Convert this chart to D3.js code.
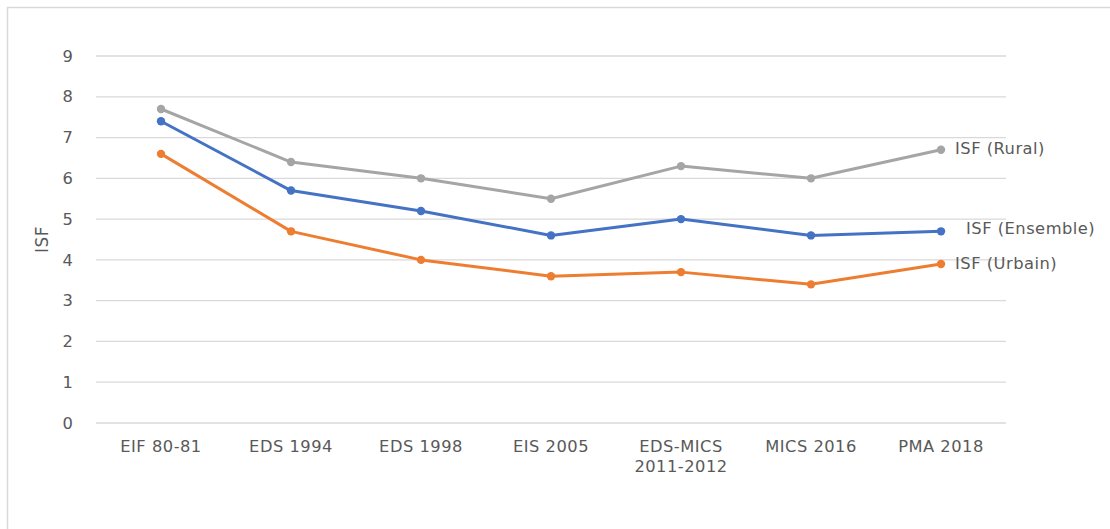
<!DOCTYPE html>
<html>
<head>
<meta charset="utf-8">
<script src="https://cdn.jsdelivr.net/npm/d3@7"></script>
<style>
  html, body { margin: 0; padding: 0; background: #fff; }
  svg { display: block; }
  text { font-family: "DejaVu Sans", "Open Sans", sans-serif; fill: #595959; letter-spacing: 0.5px; }
</style>
</head>
<body>
<svg id="chart" width="1110" height="529"></svg>
<script>
// Survey rounds
const categories = [
  ["EIF 80-81"], ["EDS 1994"], ["EDS 1998"], ["EIS 2005"],
  ["EDS-MICS", "2011-2012"], ["MICS 2016"], ["PMA 2018"]
];
// Total fertility rate by residence
const rural    = [7.7, 6.4, 6.0, 5.5, 6.3, 6.0, 6.7];
const ensemble = [7.4, 5.7, 5.2, 4.6, 5.0, 4.6, 4.7];
const urbain   = [6.6, 4.7, 4.0, 3.6, 3.7, 3.4, 3.9];
const seriesNames = ["ISF (Rural)", "ISF (Ensemble)", "ISF (Urbain)"];
const yTicks = [0, 1, 2, 3, 4, 5, 6, 7, 8, 9];

const series = [
  { name: seriesNames[0], values: rural,    color: "#A5A5A5", dx: 14, dy: 0 },
  { name: seriesNames[1], values: ensemble, color: "#4472C4", dx: 25, dy: -2 },
  { name: seriesNames[2], values: urbain,   color: "#ED7D31", dx: 14, dy: 1 }
];

const fontSize = 16.3;
const svg = d3.select("#chart");
const plot = { left: 96, right: 1006, top: 56, bottom: 423 };

// Outer frame (top and left edges visible)
svg.append("path")
  .attr("d", "M7.5,529 V7.5 H1110")
  .attr("fill", "none")
  .attr("stroke", "#d9d9d9")
  .attr("stroke-width", 1.5);

const x = d3.scaleBand()
  .domain(d3.range(categories.length))
  .range([plot.left, plot.right]);

const y = d3.scaleLinear()
  .domain([0, 9])
  .range([plot.bottom, plot.top]);

// Horizontal gridlines
svg.append("g")
  .selectAll("line")
  .data(yTicks)
  .join("line")
  .attr("x1", plot.left)
  .attr("x2", plot.right)
  .attr("y1", d => y(d))
  .attr("y2", d => y(d))
  .attr("stroke", "#d9d9d9")
  .attr("stroke-width", 1.3);

// Y axis labels
const yAxis = svg.append("g")
  .attr("transform", `translate(${plot.left - 22},0)`)
  .call(d3.axisLeft(y).tickValues(yTicks).tickSize(0).tickPadding(0));
yAxis.select(".domain").remove();
yAxis.selectAll("text")
  .attr("font-size", fontSize)
  .attr("text-anchor", "middle")
  .attr("dx", -6)
  .attr("font-family", "DejaVu Sans, Open Sans, sans-serif")
  .attr("fill", "#595959");

// Y axis title
svg.append("text")
  .attr("transform", `translate(48,${y(4.5)}) rotate(-90)`)
  .attr("text-anchor", "middle")
  .attr("font-size", 17)
  .text("ISF");

// X axis labels
const xAxis = svg.append("g")
  .attr("transform", `translate(0,${plot.bottom})`)
  .call(d3.axisBottom(x).tickSize(0).tickPadding(0).tickFormat(() => ""));
xAxis.select(".domain").remove();
xAxis.selectAll(".tick").each(function (d) {
  const t = d3.select(this).append("text")
    .attr("text-anchor", "middle")
    .attr("font-size", fontSize)
    .attr("y", 29);
  categories[d].forEach((line, i) => {
    t.append("tspan").attr("x", 0).attr("dy", i === 0 ? 0 : 20).text(line);
  });
});

const cx = i => x(i) + x.bandwidth() / 2;
const line = d3.line().x((d, i) => cx(i)).y(d => y(d));

series.forEach(s => {
  const g = svg.append("g");
  g.append("path")
    .datum(s.values)
    .attr("d", line)
    .attr("fill", "none")
    .attr("stroke", s.color)
    .attr("stroke-width", 3)
    .attr("stroke-linejoin", "round")
    .attr("stroke-linecap", "round");
  g.selectAll("circle")
    .data(s.values)
    .join("circle")
    .attr("cx", (d, i) => cx(i))
    .attr("cy", d => y(d))
    .attr("r", 4.2)
    .attr("fill", s.color);
  const last = s.values.length - 1;
  g.append("text")
    .attr("x", cx(last) + s.dx)
    .attr("y", y(s.values[last]) + s.dy)
    .attr("dominant-baseline", "middle")
    .attr("font-size", fontSize)
    .text(s.name);
});
</script>
</body>
</html>
